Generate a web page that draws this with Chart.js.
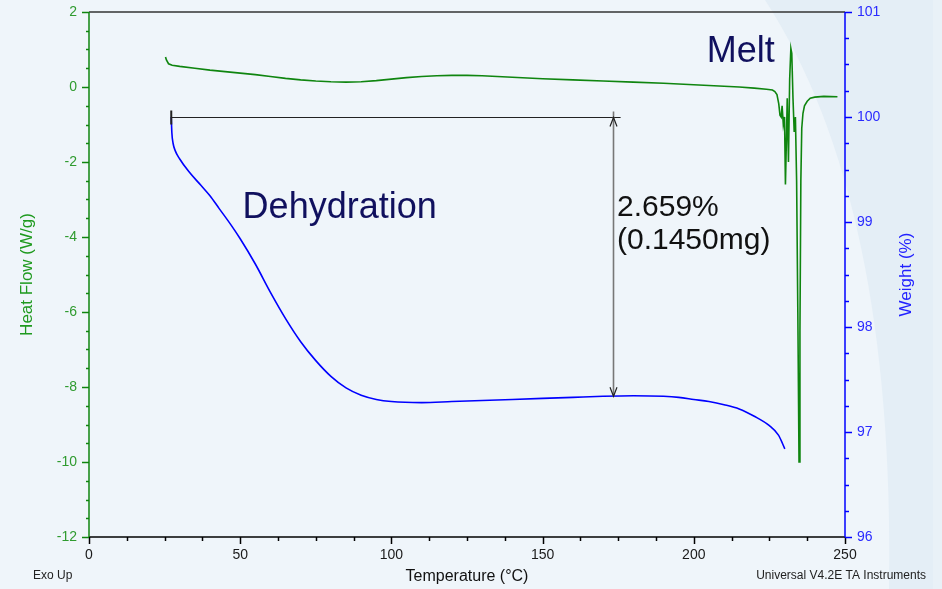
<!DOCTYPE html>
<html>
<head>
<meta charset="utf-8">
<script src="https://cdn.jsdelivr.net/npm/chart.js@4.4.1/dist/chart.umd.min.js"></script>
<style>
  html, body { margin: 0; padding: 0; background: #eff5fa; }
  canvas { display: block; }
</style>
</head>
<body>
<canvas id="chart" width="942" height="589"></canvas>
<script>
// heat flow curve (W/g) vs temperature (°C)
const hfTemp = [25.3, 25.6, 26.3, 27.5, 30, 35, 40, 45, 50, 55, 60, 65, 70, 75, 80, 85, 90, 95, 100, 105, 110, 115, 120, 125, 130, 135, 140, 145, 150, 160, 170, 180, 190, 200, 210, 215, 220, 224, 226,
  226.8, 227.5, 228.1, 228.5, 228.9, 229.2, 229.6, 230.0, 230.3, 230.6, 230.9, 231.3, 231.7, 232.1, 232.4, 232.8, 233.2, 233.6, 234.0, 234.4, 234.8, 235.1, 235.4, 235.7, 236.1, 236.6, 237.5, 238.5, 240, 243, 247.5];
const hfValue = [0.80, 0.72, 0.62, 0.58, 0.55, 0.50, 0.45, 0.41, 0.37, 0.33, 0.28, 0.23, 0.19, 0.16, 0.14, 0.13, 0.14, 0.17, 0.21, 0.25, 0.28, 0.30, 0.31, 0.31, 0.30, 0.28, 0.26, 0.24, 0.22, 0.19, 0.16, 0.13, 0.10, 0.06, 0.02, 0.00, -0.03, -0.06, -0.08,
  -0.12, -0.2, -0.45, -0.75, -0.8, -0.5, -1.0, -0.8, -2.6, -1.5, -0.3, -2.0, 0.2, 1.03, 0.9, -0.3, -1.2, -0.8, -2.5, -6.0, -10.0, -6.5, -2.5, -1.1, -0.7, -0.5, -0.38, -0.3, -0.27, -0.25, -0.26];

// weight curve (%) vs temperature (°C)
const wtTemp = [27.2, 27.4, 27.8, 28.5, 30, 33, 37, 40, 43, 47, 50, 55, 60, 65, 70, 75, 80, 85, 90, 95, 100, 110, 120, 130, 140, 150, 160, 170, 180, 190, 195, 200, 205, 210, 215, 220, 225, 228, 230.1];
const wtValue = [100.0, 99.85, 99.75, 99.68, 99.6, 99.48, 99.35, 99.25, 99.13, 98.97, 98.84, 98.6, 98.33, 98.08, 97.86, 97.68, 97.53, 97.42, 97.35, 97.31, 97.29, 97.28, 97.29, 97.3, 97.31, 97.32, 97.33, 97.34, 97.345, 97.34, 97.33, 97.31, 97.29, 97.26, 97.22, 97.15, 97.06, 96.97, 96.84];

// axis ranges
const tempRange = [0, 250];
const hfRange = [-12, 2];
const wtRange = [96, 101];

// weight-loss measurement
const stepStartTemp = 27.2;
const stepEndTemp = 175.8;
const arrowTemp = 173.4;
const wtTop = 100.0;
const wtBottom = 97.34;
const stepLabel = ["2.659%", "(0.1450mg)"];

const FONT = 'Arial, "Liberation Sans", Helvetica, sans-serif';
const GREEN = "#0f850f";
const BLUE = "#0000ff";

const backgroundPlugin = {
  id: "bg",
  beforeDraw(chart) {
    const ctx = chart.ctx;
    ctx.save();
    ctx.fillStyle = "#eff5fa";
    ctx.fillRect(0, 0, chart.width, chart.height);
    ctx.fillStyle = "#e4eef6";
    ctx.beginPath();
    ctx.moveTo(765, 0);
    ctx.quadraticCurveTo(895, 200, 889, 589);
    ctx.lineTo(933, 589);
    ctx.lineTo(933, 0);
    ctx.closePath();
    ctx.fill();
    ctx.fillStyle = "#e9f1f7";
    ctx.fillRect(933, 0, 9, 589);
    ctx.restore();
  }
};

const axesPlugin = {
  id: "axesDeco",
  afterDatasetsDraw(chart) {
    const ctx = chart.ctx;
    const {left, right, top, bottom} = chart.chartArea;
    const xs = chart.scales.x, ys = chart.scales.y, y2 = chart.scales.y2;
    ctx.save();
    ctx.lineWidth = 1.5;

    // top frame line
    ctx.strokeStyle = "#333333";
    ctx.beginPath(); ctx.moveTo(left, top); ctx.lineTo(right, top); ctx.stroke();

    // bottom axis
    ctx.strokeStyle = "#000000";
    ctx.beginPath(); ctx.moveTo(left, bottom); ctx.lineTo(right, bottom); ctx.stroke();
    for (let t = tempRange[0]; t <= tempRange[1]; t += 12.5) {
      const px = Math.round(xs.getPixelForValue(t)) + 0.5;
      const len = t % 50 === 0 ? 7 : 4;
      ctx.beginPath(); ctx.moveTo(px, bottom); ctx.lineTo(px, bottom + len); ctx.stroke();
    }

    // left axis
    ctx.strokeStyle = GREEN;
    ctx.beginPath(); ctx.moveTo(left, top); ctx.lineTo(left, bottom); ctx.stroke();
    for (let v = hfRange[0]; v <= hfRange[1]; v += 0.5) {
      const py = Math.round(ys.getPixelForValue(v)) + 0.5;
      const len = v % 2 === 0 ? 7 : 3;
      ctx.beginPath(); ctx.moveTo(left - len, py); ctx.lineTo(left, py); ctx.stroke();
    }

    // right axis
    ctx.strokeStyle = BLUE;
    ctx.beginPath(); ctx.moveTo(right, top); ctx.lineTo(right, bottom); ctx.stroke();
    for (let v = wtRange[0]; v <= wtRange[1] + 1e-9; v += 0.25) {
      const py = Math.round(y2.getPixelForValue(v)) + 0.5;
      const len = Math.abs(v - Math.round(v)) < 1e-9 ? 7 : 4;
      ctx.beginPath(); ctx.moveTo(right, py); ctx.lineTo(right + len, py); ctx.stroke();
    }

    // axis titles
    ctx.textAlign = "center";
    ctx.textBaseline = "middle";
    ctx.font = "16px " + FONT;
    ctx.fillStyle = "#111111";
    ctx.fillText("Temperature (°C)", (left + right) / 2, 577);

    ctx.font = "17px " + FONT;
    ctx.save();
    ctx.translate(27, ys.getPixelForValue(-5));
    ctx.rotate(-Math.PI / 2);
    ctx.fillStyle = "#1f9a1f";
    ctx.fillText("Heat Flow (W/g)", 0, 0);
    ctx.restore();

    ctx.save();
    ctx.translate(906, y2.getPixelForValue(98.5));
    ctx.rotate(-Math.PI / 2);
    ctx.fillStyle = "#2222ff";
    ctx.fillText("Weight (%)", 0, 0);
    ctx.restore();

    ctx.font = "12px " + FONT;
    ctx.fillStyle = "#222222";
    ctx.textAlign = "left";
    ctx.fillText("Exo Up", 33, 576);
    ctx.textAlign = "right";
    ctx.fillText("Universal V4.2E TA Instruments", 926, 576);

    // weight step measurement
    const xStart = xs.getPixelForValue(stepStartTemp);
    const xEnd = xs.getPixelForValue(stepEndTemp);
    const xArrow = Math.round(xs.getPixelForValue(arrowTemp)) + 0.5;
    const yTop = Math.round(y2.getPixelForValue(wtTop)) + 0.5;
    const yBot = y2.getPixelForValue(wtBottom);
    ctx.lineWidth = 1.2;
    ctx.strokeStyle = "#222222";
    ctx.beginPath(); ctx.moveTo(xStart, yTop); ctx.lineTo(xEnd, yTop); ctx.stroke();
    ctx.lineWidth = 2;
    ctx.beginPath(); ctx.moveTo(xStart, yTop - 7); ctx.lineTo(xStart, yTop + 7); ctx.stroke();
    ctx.strokeStyle = "#777777";
    ctx.lineWidth = 1.6;
    ctx.beginPath(); ctx.moveTo(xArrow, yTop - 6); ctx.lineTo(xArrow, yBot); ctx.stroke();
    ctx.strokeStyle = "#222222";
    ctx.lineWidth = 1.2;
    ctx.beginPath();
    ctx.moveTo(xArrow - 3.5, yTop + 9); ctx.lineTo(xArrow, yTop); ctx.lineTo(xArrow + 3.5, yTop + 9);
    ctx.moveTo(xArrow - 3.5, yBot - 9); ctx.lineTo(xArrow, yBot); ctx.lineTo(xArrow + 3.5, yBot - 9);
    ctx.stroke();

    // labels
    ctx.textAlign = "left";
    ctx.textBaseline = "alphabetic";
    ctx.font = "36px " + FONT;
    ctx.fillStyle = "#10105e";
    ctx.fillText("Dehydration", xs.getPixelForValue(50.8), ys.getPixelForValue(-3.49));
    ctx.fillText("Melt", xs.getPixelForValue(204.3), ys.getPixelForValue(0.67));
    ctx.font = "30px " + FONT;
    ctx.fillStyle = "#111111";
    ctx.fillText(stepLabel[0], xs.getPixelForValue(174.6), ys.getPixelForValue(-3.44));
    ctx.fillText(stepLabel[1], xs.getPixelForValue(174.6), ys.getPixelForValue(-4.32));
    ctx.restore();
  }
};

const hfPoints = hfTemp.map((t, i) => ({x: t, y: hfValue[i]}));
const wtPoints = wtTemp.map((t, i) => ({x: t, y: wtValue[i]}));

const fitY = (w) => (s) => { s.width = w; s.paddingTop = 0; s.paddingBottom = 0; };

new Chart(document.getElementById("chart").getContext("2d"), {
  type: "scatter",
  data: {
    datasets: [
      {
        label: "Weight",
        data: wtPoints,
        yAxisID: "y2",
        showLine: true,
        borderColor: BLUE,
        borderWidth: 1.6,
        pointRadius: 0,
        cubicInterpolationMode: "monotone"
      },
      {
        label: "Heat Flow",
        data: hfPoints,
        yAxisID: "y",
        showLine: true,
        borderColor: GREEN,
        borderWidth: 1.6,
        pointRadius: 0,
        tension: 0
      }
    ]
  },
  options: {
    responsive: false,
    animation: false,
    devicePixelRatio: 1,
    layout: { padding: { top: 12, left: 0, right: 0, bottom: 0 } },
    plugins: {
      legend: { display: false },
      tooltip: { enabled: false }
    },
    scales: {
      x: {
        type: "linear",
        min: tempRange[0],
        max: tempRange[1],
        afterFit: (s) => { s.height = 52; s.paddingLeft = 0; s.paddingRight = 0; },
        grid: { display: false },
        border: { display: false },
        ticks: { stepSize: 50, padding: 2, maxRotation: 0, color: "#1a1a1a", font: { family: FONT, size: 14 } }
      },
      y: {
        position: "left",
        min: hfRange[0],
        max: hfRange[1],
        afterFit: fitY(89),
        grid: { display: false },
        border: { display: false },
        ticks: { stepSize: 2, padding: 4, color: "#2f9b2f", font: { family: FONT, size: 14 } }
      },
      y2: {
        position: "right",
        min: wtRange[0],
        max: wtRange[1],
        afterFit: fitY(97),
        grid: { display: false },
        border: { display: false },
        ticks: { stepSize: 1, padding: 4, color: "#2a2aff", font: { family: FONT, size: 14 } }
      }
    }
  },
  plugins: [backgroundPlugin, axesPlugin]
});
</script>
</body>
</html>
